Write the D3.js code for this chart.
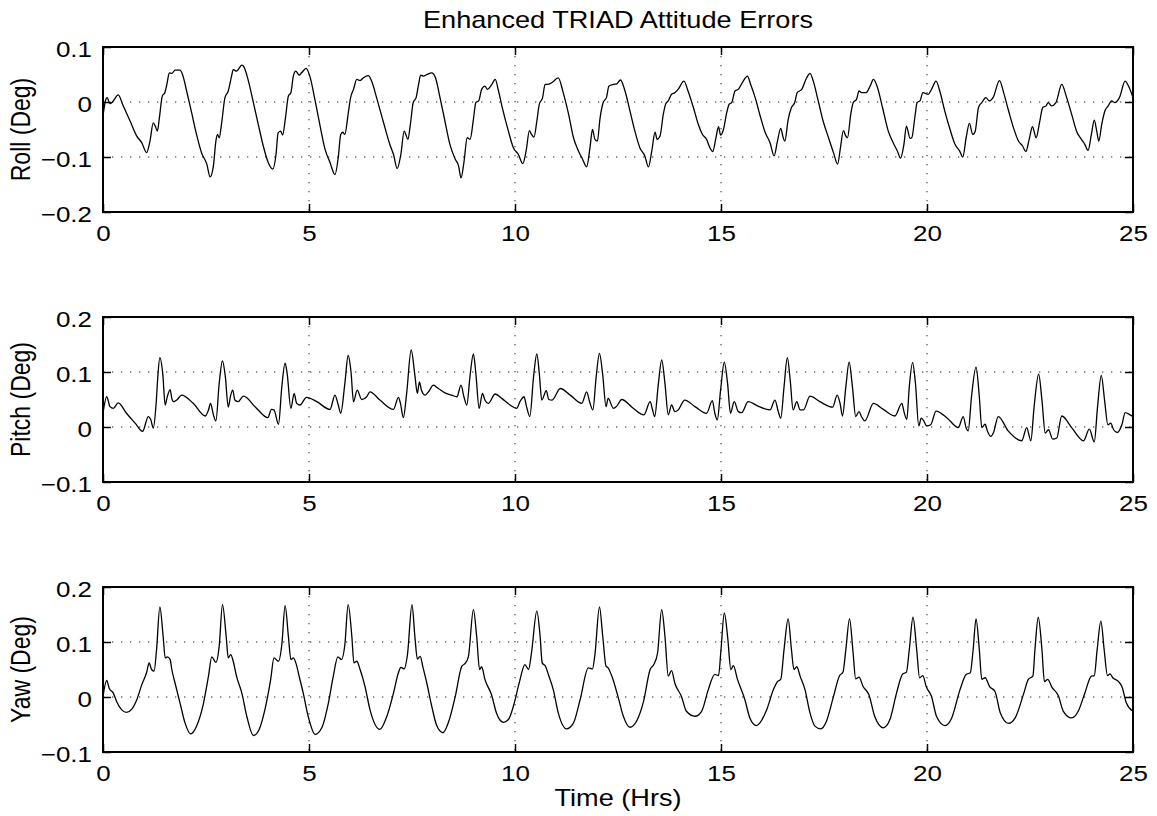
<!DOCTYPE html>
<html>
<head>
<meta charset="utf-8">
<script src="https://cdn.jsdelivr.net/npm/d3@7"></script>
<style>
  body { margin: 0; background: #fff; }
  text { font-family: "Liberation Sans", Arial, Helvetica, sans-serif; fill: #000; }
</style>
</head>
<body>
<div id="chart"></div>
<script>
// data: [time (hrs), error (deg)]
const roll = [
  [0,-0.025],[0.07,0.005],[0.10,0.008],[0.17,-0.003],[0.23,0],[0.37,0.013],[0.49,-0.007],[0.66,-0.035],[0.82,-0.062],[0.94,-0.074],
  [1.06,-0.092],[1.14,-0.071],[1.22,-0.038],[1.27,-0.044],[1.32,-0.053],[1.37,-0.028],[1.44,0.011],[1.50,0.017],[1.55,0.032],[1.61,0.053],
  [1.67,0.052],[1.75,0.058],[1.87,0.058],[1.93,0.050],[2.03,0.020],[2.15,-0.019],[2.27,-0.059],[2.39,-0.092],[2.52,-0.113],[2.60,-0.136],
  [2.68,-0.116],[2.74,-0.071],[2.78,-0.059],[2.82,-0.065],[2.88,-0.038],[2.96,0.008],[3.04,0.020],[3.12,0.047],[3.16,0.059],[3.24,0.056],
  [3.37,0.067],[3.42,0.064],[3.53,0.038],[3.65,-0.001],[3.77,-0.041],[3.89,-0.080],[4.01,-0.110],[4.12,-0.122],[4.20,-0.095],[4.25,-0.056],
  [4.31,-0.053],[4.36,-0.060],[4.43,-0.028],[4.50,0.011],[4.56,0.017],[4.62,0.047],[4.68,0.056],[4.76,0.049],[4.82,0.053],[4.93,0.061],
  [5.02,0.047],[5.15,0.002],[5.27,-0.044],[5.39,-0.086],[5.51,-0.110],[5.63,-0.132],[5.71,-0.101],[5.77,-0.059],[5.82,-0.055],[5.87,-0.059],
  [5.95,-0.022],[6.01,0.008],[6.08,0.023],[6.16,0.041],[6.24,0.039],[6.32,0.044],[6.44,0.048],[6.52,0.038],[6.64,0.008],[6.80,-0.035],
  [6.97,-0.079],[7.05,-0.095],[7.14,-0.121],[7.23,-0.095],[7.31,-0.053],[7.35,-0.059],[7.40,-0.068],[7.46,-0.041],[7.53,-0.001],[7.60,0.008],
  [7.66,0.032],[7.71,0.049],[7.78,0.047],[7.86,0.050],[7.98,0.053],[8.07,0.044],[8.18,0.008],[8.30,-0.035],[8.42,-0.077],[8.55,-0.104],
  [8.63,-0.116],[8.69,-0.138],[8.76,-0.110],[8.84,-0.065],[8.91,-0.068],[8.99,-0.032],[9.05,-0.001],[9.12,0.002],[9.19,0.023],[9.27,0.029],
  [9.33,0.023],[9.43,0.031],[9.52,0.041],[9.60,0.020],[9.70,-0.013],[9.84,-0.053],[9.96,-0.083],[10.08,-0.095],[10.19,-0.112],[10.27,-0.089],
  [10.35,-0.052],[10.40,-0.059],[10.46,-0.064],[10.53,-0.035],[10.59,-0.004],[10.67,0.008],[10.73,0.032],[10.79,0.032],[10.89,0.035],[11.05,0.044],
  [11.17,0.017],[11.30,-0.022],[11.42,-0.065],[11.54,-0.089],[11.64,-0.104],[11.74,-0.118],[11.82,-0.083],[11.88,-0.050],[11.94,-0.068],[12.00,-0.071],
  [12.06,-0.032],[12.14,-0.001],[12.22,0.008],[12.28,0.029],[12.39,0.032],[12.47,0.033],[12.56,0.040],[12.67,0.020],[12.79,-0.016],[12.91,-0.053],
  [13.03,-0.083],[13.15,-0.098],[13.24,-0.118],[13.32,-0.089],[13.40,-0.055],[13.45,-0.068],[13.52,-0.062],[13.60,-0.022],[13.66,-0.003],[13.72,0.002],
  [13.80,0.014],[13.88,0.017],[13.96,0.023],[14.10,0.038],[14.20,0.020],[14.33,-0.010],[14.45,-0.041],[14.55,-0.059],[14.65,-0.068],[14.73,-0.083],
  [14.80,-0.090],[14.88,-0.064],[14.94,-0.045],[14.99,-0.060],[15.06,-0.050],[15.14,-0.019],[15.20,-0.004],[15.26,-0.001],[15.34,0.020],[15.42,0.023],
  [15.54,0.038],[15.64,0.047],[15.72,0.032],[15.83,0.008],[15.95,-0.025],[16.07,-0.055],[16.19,-0.074],[16.29,-0.098],[16.37,-0.071],[16.45,-0.048],
  [16.51,-0.065],[16.55,-0.071],[16.63,-0.032],[16.71,-0.010],[16.79,-0.001],[16.85,0.017],[16.96,0.023],[17.08,0.044],[17.16,0.052],[17.24,0.038],
  [17.36,0.002],[17.48,-0.035],[17.61,-0.065],[17.73,-0.092],[17.83,-0.113],[17.90,-0.083],[17.97,-0.052],[18.03,-0.062],[18.07,-0.065],[18.15,-0.022],
  [18.21,-0.001],[18.29,0.005],[18.35,0.020],[18.41,0.017],[18.52,0.017],[18.62,0.029],[18.70,0.041],[18.80,0.026],[18.92,-0.010],[19.06,-0.053],
  [19.18,-0.074],[19.28,-0.089],[19.36,-0.102],[19.44,-0.077],[19.50,-0.044],[19.59,-0.066],[19.63,-0.065],[19.71,-0.025],[19.76,-0.001],[19.83,0.002],
  [19.90,0.017],[20.03,0.014],[20.11,0.023],[20.22,0.038],[20.31,0.020],[20.43,-0.016],[20.56,-0.050],[20.68,-0.077],[20.79,-0.089],[20.87,-0.100],
  [20.95,-0.065],[21.03,-0.039],[21.11,-0.059],[21.17,-0.053],[21.25,-0.010],[21.33,-0.001],[21.43,0.008],[21.51,0.002],[21.61,0.009],[21.76,0.039],
  [21.86,0.017],[21.98,-0.016],[22.10,-0.047],[22.22,-0.071],[22.32,-0.080],[22.40,-0.090],[22.48,-0.068],[22.56,-0.045],[22.65,-0.065],[22.73,-0.038],
  [22.81,-0.010],[22.89,-0.007],[22.94,-0.001],[23.02,-0.007],[23.13,-0.001],[23.27,0.032],[23.39,0.008],[23.51,-0.022],[23.63,-0.053],[23.75,-0.068],
  [23.83,-0.077],[23.91,-0.088],[23.99,-0.059],[24.06,-0.033],[24.12,-0.053],[24.17,-0.071],[24.24,-0.041],[24.32,-0.016],[24.40,-0.007],[24.48,0.002],
  [24.56,-0.001],[24.67,0.008],[24.81,0.038],[24.89,0.029],[25.00,0.008]
];

const pitch = [
  [0,0.025],[0.09,0.055],[0.17,0.037],[0.25,0.034],[0.37,0.044],[0.57,0.025],[0.78,0.007],[0.96,-0.008],[1.10,0.019],[1.16,0.013],
  [1.22,-0.002],[1.29,0.043],[1.33,0.091],[1.38,0.126],[1.45,0.097],[1.51,0.040],[1.56,0.055],[1.63,0.068],[1.67,0.052],[1.71,0.046],
  [1.79,0.049],[1.91,0.058],[2.19,0.043],[2.48,0.020],[2.56,0.031],[2.61,0.043],[2.68,0.022],[2.74,0.011],[2.82,0.079],[2.90,0.120],
  [2.97,0.091],[3.04,0.036],[3.10,0.058],[3.15,0.067],[3.20,0.049],[3.28,0.046],[3.41,0.056],[3.69,0.037],[4.00,0.017],[4.09,0.032],
  [4.15,0.031],[4.26,0.005],[4.34,0.073],[4.42,0.116],[4.47,0.097],[4.56,0.034],[4.64,0.061],[4.70,0.043],[4.78,0.040],[4.94,0.054],
  [5.19,0.046],[5.51,0.032],[5.63,0.058],[5.71,0.040],[5.77,0.025],[5.87,0.079],[5.95,0.130],[6.02,0.100],[6.08,0.046],[6.17,0.067],
  [6.28,0.050],[6.40,0.055],[6.48,0.064],[6.72,0.049],[7.05,0.032],[7.17,0.054],[7.22,0.043],[7.29,0.017],[7.37,0.061],[7.48,0.140],
  [7.57,0.094],[7.63,0.061],[7.68,0.082],[7.73,0.067],[7.82,0.058],[7.90,0.064],[8.02,0.076],[8.14,0.070],[8.30,0.062],[8.46,0.058],
  [8.59,0.055],[8.69,0.076],[8.76,0.055],[8.83,0.040],[8.91,0.094],[8.99,0.133],[9.05,0.097],[9.13,0.034],[9.21,0.061],[9.27,0.049],
  [9.35,0.043],[9.52,0.060],[9.68,0.052],[9.88,0.040],[10.04,0.034],[10.12,0.046],[10.22,0.055],[10.28,0.037],[10.36,0.019],[10.45,0.091],
  [10.53,0.133],[10.59,0.097],[10.65,0.049],[10.76,0.066],[10.82,0.050],[10.90,0.049],[11.10,0.070],[11.34,0.058],[11.62,0.043],[11.74,0.064],
  [11.81,0.046],[11.89,0.031],[11.97,0.091],[12.05,0.134],[12.13,0.094],[12.21,0.037],[12.26,0.052],[12.39,0.034],[12.47,0.038],[12.59,0.050],
  [12.87,0.034],[13.13,0.022],[13.28,0.046],[13.34,0.031],[13.39,0.019],[13.48,0.079],[13.56,0.122],[13.64,0.079],[13.72,0.022],[13.80,0.040],
  [13.88,0.028],[13.96,0.031],[14.12,0.049],[14.37,0.037],[14.65,0.025],[14.79,0.048],[14.85,0.025],[14.91,0.013],[14.99,0.067],[15.08,0.118],
  [15.16,0.079],[15.23,0.025],[15.32,0.046],[15.42,0.028],[15.50,0.026],[15.66,0.046],[15.90,0.038],[16.19,0.031],[16.31,0.049],[16.39,0.028],
  [16.45,0.016],[16.53,0.073],[16.61,0.126],[16.68,0.085],[16.75,0.031],[16.84,0.046],[16.92,0.031],[17.00,0.031],[17.16,0.056],[17.40,0.046],
  [17.71,0.036],[17.82,0.058],[17.89,0.043],[17.95,0.020],[18.03,0.073],[18.11,0.118],[18.19,0.073],[18.27,0.019],[18.35,0.028],[18.41,0.019],
  [18.49,0.011],[18.70,0.043],[18.94,0.032],[19.22,0.020],[19.39,0.043],[19.44,0.028],[19.51,0.014],[19.57,0.073],[19.65,0.117],[19.72,0.079],
  [19.80,0.002],[19.86,0.016],[19.93,0.010],[19.99,0.002],[20.09,0.004],[20.22,0.029],[20.48,0.017],[20.76,-0.001],[20.88,0.019],[20.95,-0.002],
  [21.00,-0.007],[21.08,0.055],[21.19,0.109],[21.27,0.055],[21.33,-0.001],[21.41,0.005],[21.47,-0.008],[21.55,-0.017],[21.61,-0.011],[21.73,0.019],
  [21.97,-0.007],[22.30,-0.025],[22.42,-0.001],[22.52,-0.025],[22.60,0.037],[22.71,0.096],[22.79,0.049],[22.87,-0.011],[22.95,-0.005],[23.05,-0.022],
  [23.15,-0.020],[23.27,0.020],[23.52,-0.002],[23.80,-0.025],[23.94,-0.004],[24.06,-0.027],[24.14,0.037],[24.23,0.094],[24.31,0.049],[24.39,0.004],
  [24.46,0.007],[24.53,-0.005],[24.62,-0.010],[24.73,0.004],[24.81,0.026],[24.93,0.022],[25.00,0.019]
];

const yaw = [
  [0,0.001],[0.09,0.030],[0.15,0.016],[0.25,0.007],[0.33,-0.008],[0.45,-0.023],[0.57,-0.028],[0.70,-0.022],[0.82,-0.005],[0.94,0.022],
  [1.06,0.045],[1.12,0.062],[1.18,0.050],[1.24,0.047],[1.30,0.086],[1.38,0.164],[1.46,0.110],[1.51,0.071],[1.56,0.073],[1.63,0.068],
  [1.67,0.050],[1.75,0.025],[1.87,-0.011],[1.99,-0.047],[2.13,-0.067],[2.27,-0.053],[2.44,-0.011],[2.56,0.038],[2.64,0.073],[2.74,0.063],
  [2.82,0.092],[2.90,0.168],[2.99,0.110],[3.04,0.071],[3.10,0.077],[3.16,0.065],[3.24,0.038],[3.37,0.007],[3.49,-0.035],[3.65,-0.070],
  [3.79,-0.059],[3.93,-0.023],[4.07,0.032],[4.15,0.071],[4.26,0.065],[4.34,0.095],[4.42,0.166],[4.50,0.110],[4.56,0.068],[4.62,0.071],
  [4.68,0.062],[4.77,0.035],[4.86,0.007],[4.98,-0.035],[5.15,-0.068],[5.31,-0.056],[5.47,-0.011],[5.59,0.038],[5.70,0.073],[5.79,0.068],
  [5.87,0.095],[5.95,0.168],[6.04,0.110],[6.09,0.062],[6.16,0.065],[6.24,0.050],[6.36,0.019],[6.48,-0.023],[6.72,-0.059],[6.89,-0.035],
  [7.05,0.007],[7.17,0.044],[7.23,0.054],[7.31,0.051],[7.39,0.077],[7.50,0.168],[7.57,0.110],[7.63,0.069],[7.70,0.074],[7.76,0.056],
  [7.86,0.025],[7.98,-0.017],[8.10,-0.052],[8.25,-0.065],[8.38,-0.047],[8.55,0.001],[8.71,0.056],[8.79,0.061],[8.87,0.074],[8.99,0.159],
  [9.07,0.110],[9.14,0.050],[9.19,0.055],[9.27,0.032],[9.43,0.004],[9.55,-0.029],[9.72,-0.046],[9.84,-0.041],[9.96,-0.017],[10.11,0.028],
  [10.24,0.059],[10.33,0.050],[10.40,0.080],[10.53,0.156],[10.61,0.110],[10.66,0.062],[10.74,0.056],[10.81,0.041],[10.93,0.013],[11.05,-0.029],
  [11.25,-0.058],[11.42,-0.047],[11.58,-0.005],[11.78,0.053],[11.88,0.051],[11.94,0.077],[12.05,0.164],[12.13,0.110],[12.21,0.056],[12.26,0.053],
  [12.35,0.038],[12.51,-0.002],[12.63,-0.035],[12.79,-0.055],[12.95,-0.044],[13.12,-0.008],[13.28,0.050],[13.37,0.059],[13.46,0.080],[13.56,0.159],
  [13.64,0.110],[13.72,0.038],[13.80,0.048],[13.88,0.025],[14.04,0.001],[14.16,-0.026],[14.37,-0.035],[14.53,-0.026],[14.69,0.013],[14.85,0.041],
  [14.94,0.039],[15.00,0.086],[15.08,0.153],[15.16,0.110],[15.24,0.050],[15.30,0.057],[15.40,0.032],[15.58,-0.005],[15.70,-0.038],[15.86,-0.052],
  [16.11,-0.023],[16.27,0.013],[16.37,0.028],[16.45,0.032],[16.53,0.086],[16.63,0.142],[16.71,0.086],[16.77,0.050],[16.84,0.055],[16.92,0.038],
  [17.04,0.013],[17.16,-0.029],[17.28,-0.053],[17.42,-0.058],[17.56,-0.044],[17.72,-0.002],[17.88,0.039],[17.96,0.045],[18.03,0.086],[18.12,0.142],
  [18.20,0.086],[18.27,0.033],[18.35,0.036],[18.45,0.019],[18.59,0.004],[18.73,-0.035],[18.94,-0.056],[19.10,-0.041],[19.26,0.007],[19.41,0.042],
  [19.50,0.045],[19.57,0.086],[19.66,0.145],[19.75,0.086],[19.82,0.035],[19.90,0.039],[19.98,0.019],[20.11,0.001],[20.23,-0.035],[20.44,-0.052],
  [20.60,-0.038],[20.80,0.013],[20.95,0.041],[21.05,0.044],[21.12,0.086],[21.19,0.142],[21.27,0.086],[21.33,0.032],[21.41,0.035],[21.52,0.019],
  [21.65,0.010],[21.78,-0.029],[21.98,-0.048],[22.14,-0.038],[22.35,0.007],[22.46,0.032],[22.57,0.038],[22.62,0.086],[22.70,0.145],[22.79,0.086],
  [22.85,0.028],[22.93,0.032],[23.03,0.018],[23.19,0.002],[23.31,-0.026],[23.51,-0.038],[23.67,-0.026],[23.83,0.007],[23.99,0.038],[24.06,0.039],
  [24.13,0.086],[24.22,0.138],[24.30,0.086],[24.38,0.039],[24.44,0.042],[24.51,0.035],[24.65,0.028],[24.73,0.019],[24.84,-0.011],[25.00,-0.026]
];

const xTicks = [0, 5, 10, 15, 20, 25];
const rollTicks = [-0.2, -0.1, 0, 0.1];
const pitchTicks = [-0.1, 0, 0.1, 0.2];
const yawTicks = [-0.1, 0, 0.1, 0.2];

const panels = [
  { name: "roll", label: "Roll (Deg)", data: roll, ticks: rollTicks, domain: [-0.2, 0.1] },
  { name: "pitch", label: "Pitch (Deg)", data: pitch, ticks: pitchTicks, domain: [-0.1, 0.2] },
  { name: "yaw", label: "Yaw (Deg)", data: yaw, ticks: yawTicks, domain: [-0.1, 0.2] }
];

document.addEventListener("DOMContentLoaded", () => {
  const W = 1157, H = 816;
  const left = 103, right = 1133;
  const tops = [47, 317, 587];
  const ph = 165;
  const stretch = 1.18;   // the original text is a bit wide
  const fs = 22;

  const svg = d3.select("#chart").append("svg")
    .attr("width", W).attr("height", H);

  const x = d3.scaleLinear().domain([0, 25]).range([0, right - left]);
  const fmt = d => d === 0 ? "0" : d3.format(".1f")(d);

  panels.forEach((p, i) => {
    const y = d3.scaleLinear().domain(p.domain).range([ph, 0]);
    const g = svg.append("g").attr("transform", `translate(${left},${tops[i]})`);

    g.append("clipPath").attr("id", "clip-" + p.name)
      .append("rect").attr("width", right - left).attr("height", ph);

    // dotted grid
    g.append("g").selectAll("line.gx").data(xTicks).join("line")
      .attr("x1", d => x(d)).attr("x2", d => x(d))
      .attr("y1", 0).attr("y2", ph)
      .attr("stroke", "#222").attr("stroke-width", 1)
      .attr("stroke-dasharray", "1.3 7.7");
    g.append("g").selectAll("line.gy").data(p.ticks).join("line")
      .attr("x1", 0).attr("x2", right - left)
      .attr("y1", d => y(d)).attr("y2", d => y(d))
      .attr("stroke", "#222").attr("stroke-width", 1)
      .attr("stroke-dasharray", "1.3 7.7");

    // the series
    const line = d3.line()
      .x(d => x(d[0])).y(d => y(d[1]))
      .curve(d3.curveMonotoneX);
    g.append("path").datum(p.data)
      .attr("clip-path", `url(#clip-${p.name})`)
      .attr("fill", "none").attr("stroke", "#000")
      .attr("stroke-width", 1.3).attr("stroke-linejoin", "round")
      .attr("d", line);

    // axes, ticks pointing inward like matlab
    const xb = g.append("g").attr("transform", `translate(0,${ph})`)
      .call(d3.axisBottom(x).tickValues(xTicks).tickSizeInner(-8).tickSizeOuter(0).tickPadding(0));
    const xt = g.append("g")
      .call(d3.axisTop(x).tickValues(xTicks).tickSizeInner(-8).tickSizeOuter(0).tickFormat(""));
    const yl = g.append("g")
      .call(d3.axisLeft(y).tickValues(p.ticks).tickSizeInner(-8).tickSizeOuter(0).tickFormat(fmt));
    const yr = g.append("g").attr("transform", `translate(${right - left},0)`)
      .call(d3.axisRight(y).tickValues(p.ticks).tickSizeInner(-8).tickSizeOuter(0).tickFormat(""));

    [xb, xt, yl, yr].forEach(a => {
      a.select(".domain").remove();
      a.selectAll(".tick line").attr("stroke", "#000").attr("stroke-width", 1.5);
    });

    xb.selectAll(".tick text")
      .attr("y", 29).attr("dy", null)
      .attr("transform", `scale(${stretch},1)`)
      .style("font-size", fs + "px").style("font-family", "Liberation Sans, Arial, sans-serif");
    yl.selectAll(".tick text")
      .attr("x", -11 / stretch).attr("dy", "0.36em").attr("y", 2)
      .attr("transform", `scale(${stretch},1)`)
      .style("font-size", fs + "px").style("font-family", "Liberation Sans, Arial, sans-serif");

    // box
    g.append("rect").attr("width", right - left).attr("height", ph)
      .attr("fill", "none").attr("stroke", "#000").attr("stroke-width", 2);

    // y label
    svg.append("text")
      .attr("transform", `translate(29.5,${tops[i] + ph / 2}) rotate(-90) scale(1,${stretch})`)
      .attr("text-anchor", "middle")
      .style("font-size", "23px")
      .text(p.label);
  });

  svg.append("text")
    .attr("transform", `translate(${(left + right) / 2},28) scale(${stretch},1)`)
    .attr("text-anchor", "middle")
    .style("font-size", "23px")
    .text("Enhanced TRIAD Attitude Errors");

  svg.append("text")
    .attr("transform", `translate(${(left + right) / 2},806) scale(${stretch},1)`)
    .attr("text-anchor", "middle")
    .style("font-size", "23px")
    .text("Time (Hrs)");
});
</script>
</body>
</html>
